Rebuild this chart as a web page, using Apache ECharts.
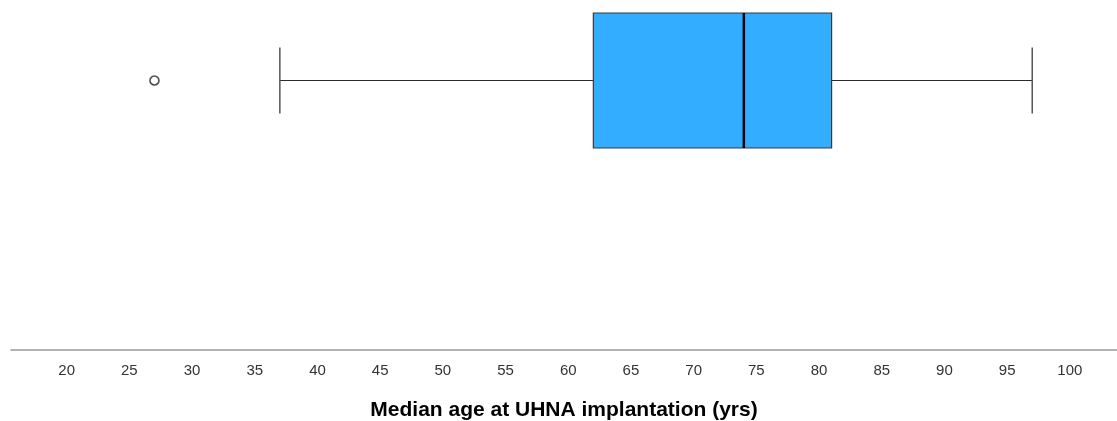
<!DOCTYPE html>
<html>
<head>
<meta charset="utf-8">
<script src="https://cdn.jsdelivr.net/npm/echarts@6/dist/echarts.min.js"></script>
<style>html,body{margin:0;padding:0;background:#fff}#c{width:1117px;height:421px}</style>
</head>
<body>
<div id="c"></div>
<script>
// Data
const categories = ['UHNA'];
const boxStats = [[37, 62, 74, 81, 97]]; // [min whisker, Q1, median, Q3, max whisker]
const outliers = [[27, 'UHNA']];
const tickValues = [20, 25, 30, 35, 40, 45, 50, 55, 60, 65, 70, 75, 80, 85, 90, 95, 100];
const axisTitle = 'Median age at UHNA implantation (yrs)';

const X_MIN = 15.56, X_MAX = 103.76;
const chart = echarts.init(document.getElementById('c'), null, {renderer: 'canvas'});

const font = '"Liberation Sans", Arial, sans-serif';

chart.setOption({
  animation: false,
  grid: [
    {left: 11, right: 0, top: 13, height: 135, outerBoundsMode: 'none', containLabel: false},
    {left: 11, right: 0, top: 0, bottom: 71, outerBoundsMode: 'none', containLabel: false}
  ],
  xAxis: [
    {gridIndex: 0, type: 'value', min: X_MIN, max: X_MAX, show: false},
    {
      gridIndex: 1, type: 'value', min: X_MIN, max: X_MAX,
      axisLine: {show: true, lineStyle: {color: '#9a9a9a', width: 1.5}},
      axisTick: {show: false},
      splitLine: {show: false},
      axisLabel: {customValues: tickValues, color: '#333', fontFamily: font, fontSize: 15, margin: 13},
      name: axisTitle, nameLocation: 'middle', nameGap: 50,
      nameTextStyle: {color: '#000', fontFamily: font, fontSize: 21, fontWeight: 'bold'}
    }
  ],
  yAxis: [
    {gridIndex: 0, type: 'category', data: categories, show: false},
    {gridIndex: 1, type: 'value', show: false}
  ],
  series: [
    {
      type: 'custom', xAxisIndex: 0, yAxisIndex: 0,
      data: boxStats.map((s, i) => [i].concat(s)),
      encode: {x: [1, 2, 3, 4, 5], y: 0},
      renderItem: function (params, api) {
        const ci = api.value(0);
        const lo = api.coord([api.value(1), ci]);
        const q1 = api.coord([api.value(2), ci]);
        const md = api.coord([api.value(3), ci]);
        const q3 = api.coord([api.value(4), ci]);
        const hi = api.coord([api.value(5), ci]);
        const band = api.size([0, 1])[1];
        const cy = q1[1];
        const bh = band;
        const ch = band * 0.49;
        const stroke = {stroke: '#2b2b2b', lineWidth: 1, fill: null};
        return {
          type: 'group',
          children: [
            {type: 'line', shape: {x1: lo[0], y1: cy, x2: q1[0], y2: cy}, style: stroke},
            {type: 'line', shape: {x1: q3[0], y1: cy, x2: hi[0], y2: cy}, style: stroke},
            {type: 'line', shape: {x1: lo[0], y1: cy - ch / 2, x2: lo[0], y2: cy + ch / 2}, style: {stroke: '#555', lineWidth: 1.5}},
            {type: 'line', shape: {x1: hi[0], y1: cy - ch / 2, x2: hi[0], y2: cy + ch / 2}, style: {stroke: '#555', lineWidth: 1.5}},
            {type: 'rect', shape: {x: q1[0], y: cy - bh / 2, width: q3[0] - q1[0], height: bh}, style: {fill: '#33adff', stroke: '#3a3a3a', lineWidth: 1.2}},
            {type: 'line', shape: {x1: md[0], y1: cy - bh / 2, x2: md[0], y2: cy + bh / 2}, style: {stroke: '#000', lineWidth: 2.5}}
          ]
        };
      }
    },
    {
      type: 'scatter', xAxisIndex: 0, yAxisIndex: 0,
      data: outliers,
      symbol: 'circle', symbolSize: 9,
      itemStyle: {color: '#fff', borderColor: '#222', borderWidth: 1.6}
    }
  ]
});
</script>
</body>
</html>
